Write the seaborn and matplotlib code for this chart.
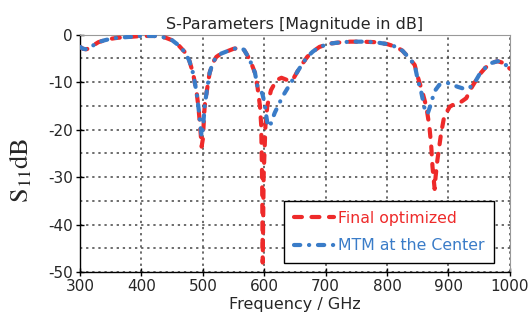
import matplotlib
matplotlib.use("Agg")
import matplotlib.pyplot as plt
import seaborn as sns
import numpy as np

freq_red = [300,305,310,315,320,330,340,350,360,380,400,420,430,440,450,460,470,478,484,490,493,
            496,498,500,503,
            506,511,516,522,530,540,550,560,567,573,580,585,589,
            593,595,596.5,597.5,599,602,605,611,620,628,638,646,
            654,663,670,679,690,707,720,740,760,780,800,815,825,835,845,
            850,858,864,869,872,874,876,877.5,879,882,888,893,902,910,918,929,937,945,
            950,960,970,980,990,1000]
s11_red = [-2.6,-3.0,-3.1,-2.9,-2.4,-1.6,-1.2,-0.9,-0.7,-0.5,-0.3,-0.3,-0.4,-0.7,-1.2,-2.2,-3.6,-5.5,-8.1,-12.3,-15.5,
           -20,-23.6,-22,-15,
           -12.3,-8.1,-6.0,-4.7,-4.0,-3.5,-3.0,-2.8,-3.2,-4.5,-6.4,-8.1,-11,
           -15,-19,-30,-48,-30,-19,-15,-11.7,-9.6,-9.1,-9.6,-9.6,
           -7.8,-6.0,-4.7,-3.6,-2.6,-1.9,-1.7,-1.5,-1.5,-1.6,-2.0,-2.6,-3.4,-4.8,-6.4,
           -8.9,-12.3,-15.2,-19.4,-23.6,-27.8,-30.5,-32.5,-30,-26.4,-20.8,-17.3,-15.2,-14.6,-14.4,-13.4,-11.3,-9.6,
           -8.5,-7.0,-6.0,-5.6,-6.0,-7.2]

freq_blue = [300,305,310,315,320,330,340,350,360,380,400,420,430,440,450,460,470,478,484,490,493,
             496,498,500,503,
             506,511,516,522,530,540,550,560,567,573,580,585,589,
             593,597,600.5,603.5,606,610,617,630,646,
             654,663,670,679,690,707,720,740,760,780,800,815,825,835,845,
             850,856,861,866,872,877,885,899,915,925,934,945,
             950,960,970,980,990,1000]
s11_blue = [-2.6,-3.0,-3.1,-2.9,-2.4,-1.6,-1.2,-0.9,-0.7,-0.5,-0.3,-0.3,-0.4,-0.7,-1.2,-2.2,-3.6,-5.5,-8.1,-12.3,-15.5,
            -19,-21.5,-20,-15,
            -12.3,-8.1,-6.0,-4.7,-4.0,-3.5,-3.0,-2.8,-3.2,-4.5,-6.4,-8.1,-11,
            -11.5,-12.5,-14.4,-17.3,-19.4,-19,-16.5,-13,-9.6,
            -7.8,-6.0,-4.7,-3.6,-2.6,-1.9,-1.7,-1.5,-1.5,-1.6,-2.0,-2.6,-3.4,-4.8,-6.4,
            -9.5,-12.3,-15.5,-16.7,-14.4,-12,-10.6,-10.2,-11,-11.4,-11.3,-9.6,
            -8.5,-7.0,-6.0,-5.6,-6.0,-7.2]

x_ticks = [300,400,500,600,700,800,900,1000]
y_ticks = [-50,-40,-30,-20,-10,0]

sns.set_theme(style="white")
plt.rcParams['font.family'] = ['DejaVu Sans']
plt.rcParams['mathtext.fontset'] = 'stix'
plt.rcParams['axes.unicode_minus'] = False

fig = plt.figure(figsize=(5.30, 3.29), dpi=100)
ax = fig.add_axes([0.151, 0.173, 0.811, 0.722])

red = '#ee2a2a'
blue = '#3a7cc8'
sns.lineplot(x=freq_red, y=s11_red, ax=ax, color=red, lw=3.0, sort=False,
             estimator=None, label='Final optimized', zorder=3)
sns.lineplot(x=freq_blue, y=s11_blue, ax=ax, color=blue, lw=3.0, sort=False,
             estimator=None, label='MTM at the Center', zorder=3)
ax.lines[0].set_dashes([1.9, 2.3])
ax.lines[1].set_dashes([1.5, 2.1, 0.05, 2.1])
for l in ax.lines[:2]:
    l.set_dash_capstyle('round')

ax.set_xlim(300, 1000)
ax.set_ylim(-50, 0)
ax.set_xticks(x_ticks)
ax.set_yticks(y_ticks)
ax.set_yticks([-45,-35,-25,-15,-5], minor=True)
ax.grid(True, which='major', color='#444444', linestyle=(0, (1.5, 2.5)), lw=1.1)
ax.grid(True, which='minor', axis='y', color='#444444', linestyle=(0, (1.5, 2.5)), lw=1.1)
ax.tick_params(axis='both', which='major', labelsize=11, direction='inout', length=6,
               width=1, color='black', pad=2, left=True, bottom=True)
ax.tick_params(axis='y', which='minor', length=0)
for s in ['left', 'bottom']:
    ax.spines[s].set_color('black')
    ax.spines[s].set_linewidth(1.0)
for s in ['top', 'right']:
    ax.spines[s].set_color('#999999')
    ax.spines[s].set_linewidth(0.8)

ax.set_title('S-Parameters [Magnitude in dB]', fontsize=11.5, pad=4)
ax.set_xlabel('Frequency / GHz', fontsize=11.5, labelpad=2)
ax.set_ylabel(r'$\mathrm{S}_{11}\mathrm{dB}$', fontsize=19, labelpad=4)
ax.yaxis.set_label_coords(-0.105, 0.43)

leg = ax.legend(loc='lower right', bbox_to_anchor=(0.962, 0.04), fontsize=11.3,
                frameon=True, fancybox=False, edgecolor='black', handlelength=2.6,
                borderpad=0.6, labelspacing=0.8, handletextpad=0.2, borderaxespad=0)
leg.get_frame().set_linewidth(1.0)
leg.get_frame().set_alpha(1)
for t, c in zip(leg.get_texts(), [red, blue]):
    t.set_color(c)

fig.savefig('out.png', dpi=100)
